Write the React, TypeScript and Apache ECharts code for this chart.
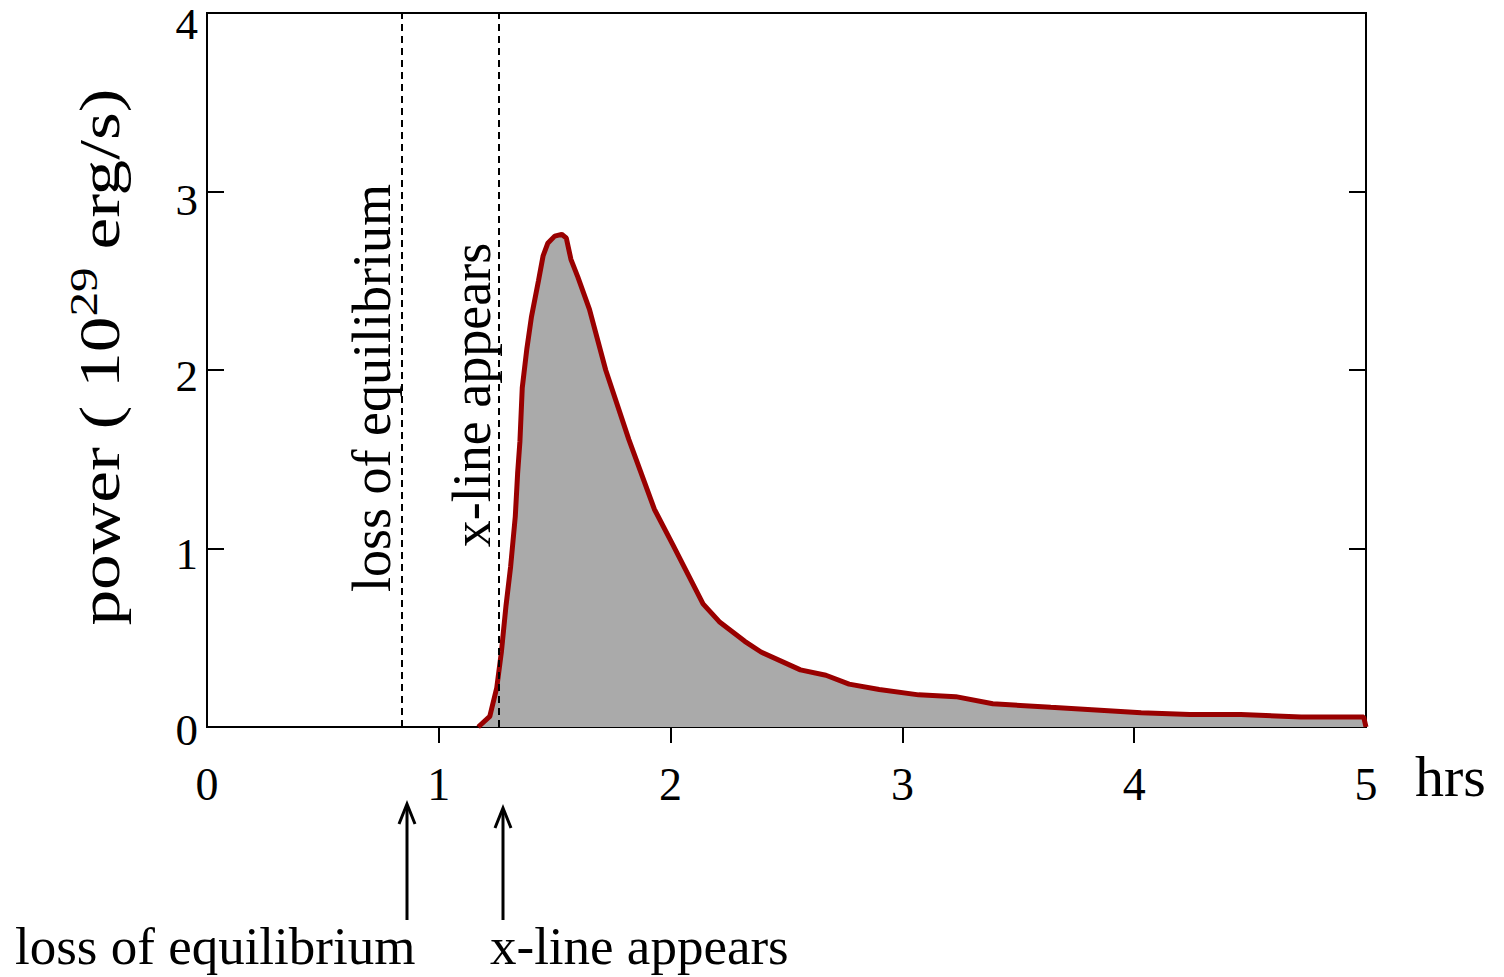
import React, { useEffect, useRef } from "react";
import * as echarts from "echarts";

const hours = [1.17, 1.22, 1.25, 1.27, 1.29, 1.31, 1.33, 1.34, 1.35, 1.36, 1.38, 1.40, 1.43, 1.45, 1.47, 1.50, 1.53, 1.55, 1.57, 1.60, 1.65, 1.72, 1.82, 1.93, 2.01, 2.14, 2.21, 2.32, 2.39, 2.56, 2.67, 2.77, 2.90, 3.07, 3.23, 3.39, 3.64, 4.03, 4.24, 4.46, 4.72, 4.99, 5.0];
const power = [0, 0.06, 0.22, 0.42, 0.68, 0.90, 1.18, 1.42, 1.60, 1.90, 2.12, 2.30, 2.50, 2.64, 2.71, 2.75, 2.76, 2.74, 2.62, 2.52, 2.34, 2.00, 1.61, 1.22, 1.02, 0.69, 0.59, 0.48, 0.42, 0.32, 0.29, 0.24, 0.21, 0.18, 0.17, 0.13, 0.11, 0.08, 0.07, 0.07, 0.056, 0.056, 0];
const eventTimes = [0.837, 1.264];
const eventLabels = ["loss of equilibrium", "x-line appears"];
const xTicks = [1, 2, 3, 4];

const FONT = "Liberation Serif";

export default function App() {
  const ref = useRef<HTMLDivElement>(null);
  useEffect(() => {
    if (!ref.current) return;
    const chart = echarts.init(ref.current, null, { renderer: "svg" });
    const data = hours.map((h, i) => [h, power[i]]);
    const yLabelStyle = (lh: number) => ({ fontFamily: FONT, fontSize: 45, lineHeight: lh, color: "#000" });
    chart.setOption({
      animation: false,
      backgroundColor: "#fff",
      grid: {
        left: 207,
        top: 13,
        right: 138,
        bottom: 250,
        show: true,
        borderColor: "#000",
        borderWidth: 2,
        backgroundColor: "transparent",
        outerBoundsMode: "none",
        containLabel: false,
      },
      xAxis: {
        type: "value",
        min: 0,
        max: 5,
        interval: 1,
        splitLine: { show: false },
        axisLine: { show: true, onZero: false, lineStyle: { color: "#000", width: 2 } },
        axisTick: { show: true, inside: false, length: 16, customValues: xTicks, lineStyle: { color: "#000", width: 2 } },
        axisLabel: { color: "#000", fontFamily: FONT, fontSize: 46, margin: 34 },
      },
      yAxis: [
        {
          type: "value",
          min: 0,
          max: 4,
          interval: 1,
          splitLine: { show: false },
          axisLine: { show: true, lineStyle: { color: "#000", width: 2 } },
          axisTick: { show: true, inside: true, length: 17, lineStyle: { color: "#000", width: 2 } },
          axisLabel: {
            color: "#000",
            fontFamily: FONT,
            fontSize: 45,
            margin: 9,
            verticalAlign: "top",
            formatter: (v: number) => `{o${v}|${v}}`,
            rich: {
              o0: yLabelStyle(6),
              o1: yLabelStyle(10),
              o2: yLabelStyle(12),
              o3: yLabelStyle(16),
              o4: yLabelStyle(22),
            },
          },
        },
        {
          type: "value",
          position: "right",
          min: 0,
          max: 4,
          interval: 1,
          splitLine: { show: false },
          axisLine: { show: true, lineStyle: { color: "#000", width: 2 } },
          axisTick: { show: true, inside: true, length: 17, lineStyle: { color: "#000", width: 2 } },
          axisLabel: { show: false },
        },
      ],
      series: [
        {
          type: "line",
          data,
          yAxisIndex: 0,
          symbol: "none",
          smooth: false,
          lineStyle: { color: "#990000", width: 5 },
          areaStyle: { color: "#aaaaaa", opacity: 1 },
          z: 2,
          markLine: {
            silent: true,
            symbol: ["none", "none"],
            label: { show: false },
            lineStyle: { color: "#000", type: [7, 5], width: 2 },
            data: eventTimes.map((t) => ({ xAxis: t })),
          },
        },
      ],
      graphic: [
        {
          type: "text",
          x: 98,
          y: 357,
          rotation: Math.PI / 2,
          scaleX: 1.23,
          style: {
            text: "{a|power ( 10}{b|29}{a| erg/s)}",
            textAlign: "center",
            textVerticalAlign: "middle",
            rich: {
              a: { fontFamily: FONT, fontSize: 58, lineHeight: 60, verticalAlign: "bottom", fill: "#000" },
              b: { fontFamily: FONT, fontSize: 40, lineHeight: 40, verticalAlign: "bottom", padding: [0, 0, 24, 0], fill: "#000" },
            },
          },
        },
        {
          type: "text",
          x: 1415,
          y: 776,
          style: { text: "hrs", fontFamily: FONT, fontSize: 58, fill: "#000", textAlign: "left", textVerticalAlign: "middle" },
        },
        {
          type: "text",
          x: 372,
          y: 388,
          rotation: Math.PI / 2,
          style: { text: eventLabels[0], fontFamily: FONT, fontSize: 54, fill: "#000", textAlign: "center", textVerticalAlign: "middle" },
        },
        {
          type: "text",
          x: 472,
          y: 395,
          rotation: Math.PI / 2,
          style: { text: eventLabels[1], fontFamily: FONT, fontSize: 54, fill: "#000", textAlign: "center", textVerticalAlign: "middle" },
        },
        {
          type: "text",
          x: 15,
          y: 946,
          style: { text: eventLabels[0], fontFamily: FONT, fontSize: 53, fill: "#000", textAlign: "left", textVerticalAlign: "middle" },
        },
        {
          type: "text",
          x: 490,
          y: 946,
          style: { text: eventLabels[1], fontFamily: FONT, fontSize: 53, fill: "#000", textAlign: "left", textVerticalAlign: "middle" },
        },
        { type: "line", shape: { x1: 407, y1: 920, x2: 407, y2: 806 }, style: { stroke: "#000", lineWidth: 3 } },
        { type: "polyline", shape: { points: [[399, 824], [407, 804], [415, 824]] }, style: { stroke: "#000", lineWidth: 3, fill: "none" } },
        { type: "line", shape: { x1: 503, y1: 920, x2: 503, y2: 810 }, style: { stroke: "#000", lineWidth: 3 } },
        { type: "polyline", shape: { points: [[495, 828], [503, 808], [511, 828]] }, style: { stroke: "#000", lineWidth: 3, fill: "none" } },
      ],
    });
    return () => chart.dispose();
  }, []);
  return <div ref={ref} style={{ position: "fixed", left: 0, top: 0, width: 1504, height: 977, background: "#fff" }} />;
}
